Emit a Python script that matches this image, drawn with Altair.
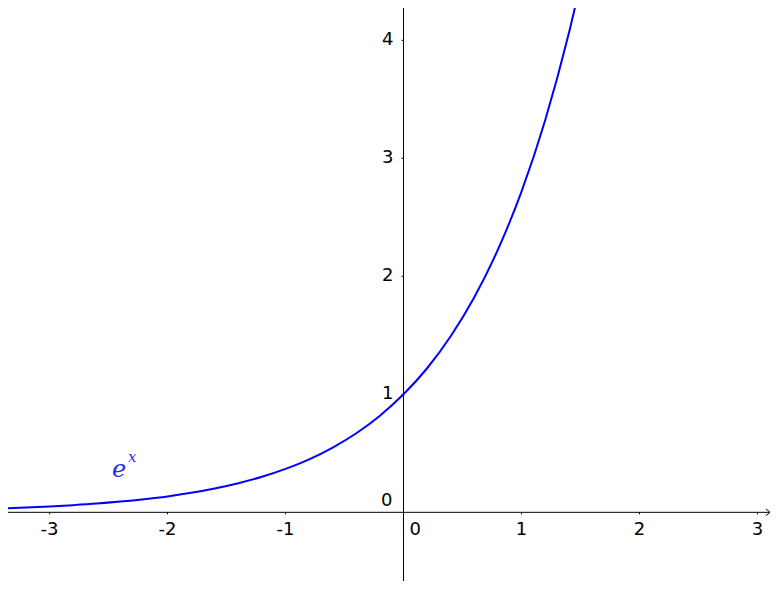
import altair as alt
import pandas as pd

# curve values
curve_x = [-3.4, -3.2, -3.0, -2.8, -2.6, -2.4, -2.2, -2.0, -1.8, -1.6, -1.4, -1.2, -1.0,
           -0.8, -0.6, -0.4, -0.2, 0.0, 0.2, 0.4, 0.6, 0.8, 1.0, 1.2, 1.4, 1.5]
curve_y = [0.033, 0.041, 0.050, 0.061, 0.074, 0.091, 0.111, 0.135, 0.165, 0.202, 0.247, 0.301, 0.368,
           0.449, 0.549, 0.670, 0.819, 1.0, 1.221, 1.492, 1.822, 2.226, 2.718, 3.320, 4.055, 4.48]

x_ticks = [-3, -2, -1, 1, 2, 3]
y_ticks = [1, 2, 3, 4]
x_domain = [-3.352, 3.106]
y_domain = [-0.582, 4.274]

W, H = 762, 573

xs = alt.Scale(domain=x_domain, nice=False, zero=False)
ys = alt.Scale(domain=y_domain, nice=False, zero=False)

curve_df = pd.DataFrame({"x": curve_x, "y": curve_y})
xt_df = pd.DataFrame({"x": x_ticks, "y": [0] * len(x_ticks), "t": [str(v) for v in x_ticks]})
yt_df = pd.DataFrame({"x": [0] * len(y_ticks), "y": y_ticks, "t": [str(v) for v in y_ticks]})
xaxis_df = pd.DataFrame({"x": [x_domain[0]], "x2": [x_domain[1]], "y": [0]})
yaxis_df = pd.DataFrame({"x": [0], "y": [y_domain[0]], "y2": [y_domain[1]]})
origin_df = pd.DataFrame({"x": [0], "y": [0], "t": ["0"]})
arrow_df = pd.DataFrame({"x": [x_domain[1]], "y": [0]})
label_df = pd.DataFrame({"x": [-2.41], "y": [0.36], "t": ["e"]})
label2_df = pd.DataFrame({"x": [-2.30], "y": [0.47], "t": ["x"]})


def X():
    return alt.X("x:Q", scale=xs, axis=None)


def Y():
    return alt.Y("y:Q", scale=ys, axis=None)


xaxis = alt.Chart(xaxis_df).mark_rule(color="black", strokeWidth=1).encode(
    x=X(), x2="x2:Q", y=Y())
yaxis = alt.Chart(yaxis_df).mark_rule(color="black", strokeWidth=1).encode(
    y=Y(), y2="y2:Q", x=X())

xticks = alt.Chart(xt_df).mark_point(shape="M0,0L0,1", size=16, color="black",
                                     filled=False, strokeWidth=1, opacity=1).encode(x=X(), y=Y())
yticks = alt.Chart(yt_df).mark_point(shape="M0,0L-1,0", size=16, color="black",
                                     filled=False, strokeWidth=1, opacity=1).encode(x=X(), y=Y())

font = "DejaVu Sans"
fs = 18
xlabels = alt.Chart(xt_df).mark_text(font=font, fontSize=fs, color="black", align="center",
                                     baseline="middle", dy=18).encode(x=X(), y=Y(), text="t:N")
ylabels = alt.Chart(yt_df).mark_text(font=font, fontSize=fs, color="black", align="right",
                                     baseline="middle", dx=-10).encode(x=X(), y=Y(), text="t:N")
x0label = alt.Chart(origin_df).mark_text(font=font, fontSize=fs, color="black", align="left",
                                         baseline="middle", dx=6, dy=18).encode(x=X(), y=Y(), text="t:N")
y0label = alt.Chart(origin_df).mark_text(font=font, fontSize=fs, color="black", align="right",
                                         baseline="middle", dx=-11, dy=-11).encode(x=X(), y=Y(), text="t:N")

arrow = alt.Chart(arrow_df).mark_point(shape="M-1,-0.85L0,0L-1,0.85", size=64, color="black",
                                       filled=False, strokeWidth=1, opacity=1).encode(x=X(), y=Y())

line = alt.Chart(curve_df).mark_line(color="#0000ff", strokeWidth=2, interpolate="monotone",
                                     clip=True).encode(x=X(), y=Y())

elab = alt.Chart(label_df).mark_text(font="DejaVu Serif", fontStyle="italic", fontSize=24,
                                     color="#2a2aff", align="center", baseline="middle").encode(
    x=X(), y=Y(), text="t:N")
xlab = alt.Chart(label2_df).mark_text(font="DejaVu Serif", fontStyle="italic", fontSize=15,
                                      color="#2a2aff", align="center", baseline="middle").encode(
    x=X(), y=Y(), text="t:N")

chart = alt.layer(xaxis, yaxis, xticks, yticks, xlabels, ylabels, x0label, y0label, arrow,
                  line, elab, xlab).properties(
    width=W, height=H, padding=0, autosize=alt.AutoSizeParams(type="none")
).configure_view(stroke=None)

chart.save("out.html", embed_options={"renderer": "svg", "actions": False})
